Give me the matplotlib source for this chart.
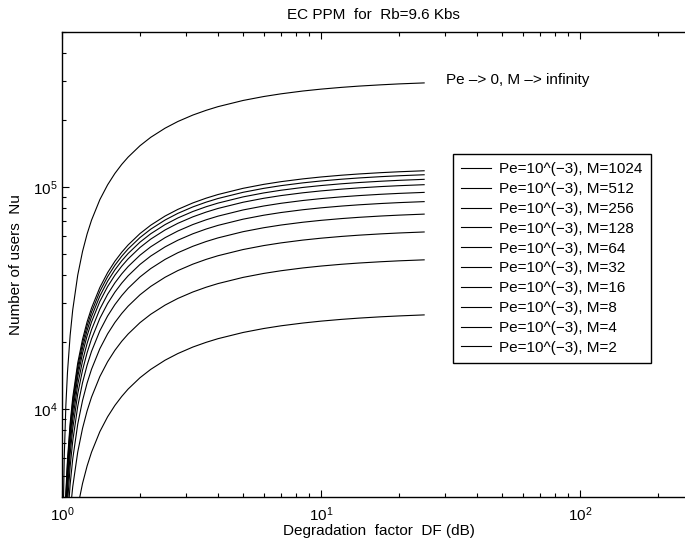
import matplotlib
matplotlib.use("Agg")
import matplotlib.pyplot as plt
from matplotlib.ticker import NullFormatter

plt.rcParams['font.family'] = ['Liberation Sans', 'DejaVu Sans']

# degradation factor samples (x axis)
df = [1.01, 1.02, 1.035, 1.05, 1.075, 1.1, 1.15, 1.2, 1.25, 1.3, 1.4, 1.5,
      1.6, 1.7, 1.8, 2, 2.2, 2.5, 2.8, 3.2, 3.6, 4, 5, 6, 7, 8.5, 10, 12,
      14, 17, 20, 25]

# number of users
nu_inf = [3040, 6020, 10380, 14620, 21420, 27910, 40040, 51170, 61400, 70850,
          87710, 102300, 115100, 126400, 136400, 153500, 167500, 184200,
          197400, 211100, 221700, 230300, 245600, 255800, 263100, 270900,
          276300, 281400, 285100, 288900, 291700, 294700]
nu_1024 = [1221, 2418, 4170, 5871, 8602, 11210, 16080, 20550, 24660, 28450,
           35230, 41100, 46240, 50770, 54800, 61650, 67250, 73980, 79260,
           84770, 89050, 92480, 98640, 102750, 105690, 108790, 110970,
           113030, 114490, 116050, 117140, 118370]
nu_512 = [1171, 2320, 4000, 5633, 8253, 10750, 15430, 19720, 23660, 27300,
          33800, 39430, 44360, 48710, 52580, 59150, 64530, 70980, 76050,
          81330, 85440, 88730, 94640, 98580, 101400, 104380, 106470,
          108440, 109850, 111340, 112390, 113570]
nu_256 = [1117, 2212, 3814, 5371, 7870, 10250, 14710, 18800, 22560, 26030,
          32230, 37600, 42300, 46450, 50130, 56400, 61530, 67680, 72510,
          77550, 81470, 84600, 90240, 94000, 96690, 99530, 101520, 103400,
          104740, 106160, 107160, 108290]
nu_128 = [1056, 2092, 3608, 5081, 7444, 9700, 13920, 17780, 21340, 24620,
          30490, 35570, 40010, 43930, 47420, 53350, 58200, 64020, 68590,
          73360, 77060, 80030, 85360, 88920, 91460, 94150, 96030, 97810,
          99080, 100430, 101370, 102430]
nu_64 = [975, 1931, 3331, 4690, 6872, 8955, 12850, 16420, 19700, 22730,
         28140, 32830, 36940, 40560, 43780, 49250, 53730, 59100, 63320,
         67720, 71140, 73880, 78800, 82080, 84430, 86910, 88650, 90290,
         91460, 92710, 93580, 94560]
nu_32 = [886, 1755, 3027, 4262, 6244, 8136, 11670, 14920, 17900, 20650,
         25570, 29830, 33560, 36850, 39780, 44750, 48820, 53700, 57540,
         61530, 64640, 67130, 71600, 74580, 76710, 78970, 80550, 82040,
         83110, 84240, 85030, 85920]
nu_16 = [778, 1541, 2658, 3743, 5484, 7145, 10250, 13100, 15720, 18140,
         22460, 26200, 29480, 32360, 34930, 39300, 42870, 47160, 50530,
         54040, 56770, 58950, 62880, 65500, 67370, 69350, 70740, 72050,
         72990, 73980, 74670, 75460]
nu_8 = [647, 1280, 2208, 3110, 4556, 5936, 8517, 10880, 13060, 15070,
        18660, 21770, 24490, 26890, 29020, 32650, 35620, 39180, 41980,
        44890, 47160, 48980, 52240, 54420, 55970, 57620, 58770, 59860,
        60640, 61460, 62040, 62690]
nu_4 = [484, 959, 1654, 2329, 3412, 4445, 6378, 8150, 9780, 11280,
        13970, 16300, 18340, 20140, 21730, 24450, 26670, 29340, 31440,
        33620, 35320, 36680, 39120, 40750, 41910, 43150, 44010, 44830,
        45410, 46020, 46460, 46940]
nu_2 = [273, 541, 933, 1314, 1926, 2509, 3600, 4600, 5520, 6369,
        7886, 9200, 10350, 11360, 12270, 13800, 15050, 16560, 17740,
        18980, 19930, 20700, 22080, 23000, 23660, 24350, 24840, 25300,
        25630, 25980, 26220, 26500]

m_values = [1024, 512, 256, 128, 64, 32, 16, 8, 4, 2]
m_curves = [nu_1024, nu_512, nu_256, nu_128, nu_64, nu_32, nu_16, nu_8, nu_4, nu_2]

fig = plt.figure(figsize=(6.85, 5.48), dpi=100)
ax = fig.add_axes([62 / 685, 51 / 548, 623 / 685, 465 / 548])
ax.set_xscale('log')
ax.set_yscale('log')

ax.plot(df, nu_inf, color='black', lw=0.8)
for m, nu in zip(m_values, m_curves):
    ax.plot(df, nu, color='black', lw=0.8, label=f'Pe=10^(\u22123), M={m}')

ax.set_xlim(1, 254)
ax.set_ylim(4000, 5e5)

ax.text(30.4, 3.03e5, 'Pe \u2013> 0, M \u2013> infinity', fontsize=11, va='center')

ax.spines['right'].set_visible(False)
for s in ['left', 'top', 'bottom']:
    ax.spines[s].set_linewidth(1.0)
ax.tick_params(which='both', direction='in', top=True, right=False, width=0.8)
ax.tick_params(which='major', length=5, labelsize=11)
ax.tick_params(which='minor', length=3)
ax.tick_params(axis='x', which='major', pad=6)
ax.tick_params(axis='y', which='major', pad=3)
ax.xaxis.set_minor_formatter(NullFormatter())
ax.yaxis.set_minor_formatter(NullFormatter())

ax.set_title('EC PPM  for  Rb=9.6 Kbs', fontsize=11, pad=9.5)
ax.set_xlabel('Degradation  factor  DF (dB)', fontsize=11)
ax.set_ylabel('Number of users  Nu', fontsize=11)
ax.xaxis.set_label_coords(0.508, -0.058)
ax.yaxis.set_label_coords(-0.062, 0.5)

leg = ax.legend(loc='upper left', bbox_to_anchor=(453 / 685, 1 - 154 / 548),
                bbox_transform=fig.transFigure, fontsize=11, fancybox=False,
                edgecolor='black', framealpha=1, handlelength=1.96,
                handletextpad=0.52, labelspacing=0.38, borderpad=0.55,
                borderaxespad=0)
leg.get_frame().set_linewidth(1.0)

fig.savefig('out.png', dpi=100)
